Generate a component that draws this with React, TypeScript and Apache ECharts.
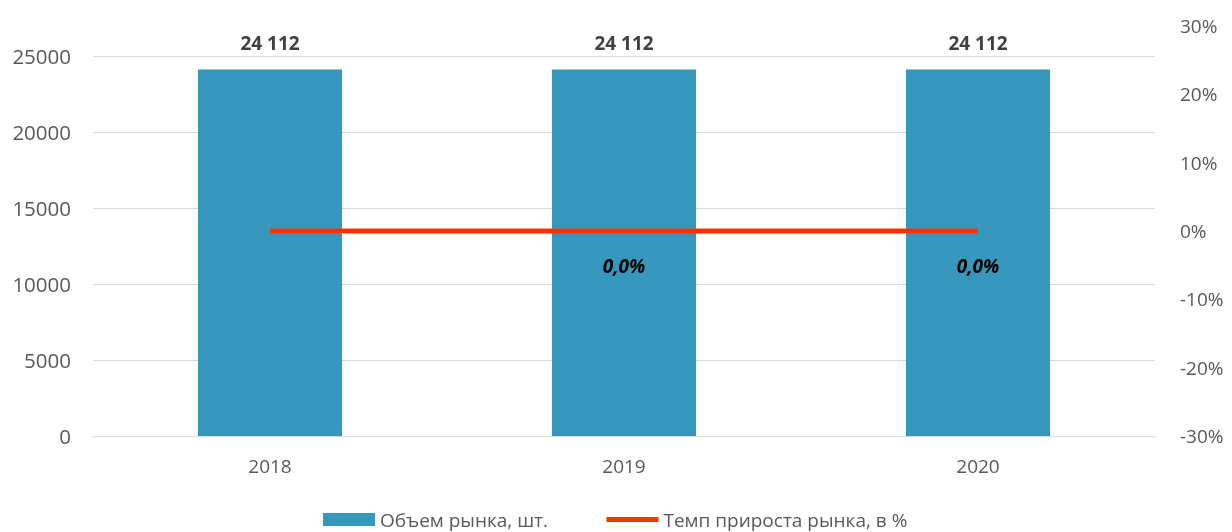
import React, { useEffect, useRef } from "react";
import * as echarts from "echarts";

const years = ["2018", "2019", "2020"];
const marketVolume = [24112, 24112, 24112];
const growthRate = [0, 0, 0];
const growthLabelShown = [false, true, true];
const leftTicks = { min: 0, max: 25000, interval: 5000 };
const rightTicks = { min: -30, max: 30, interval: 10 };

const FONT = "'Open Sans', 'Noto Sans', sans-serif";

export default function App() {
  const ref = useRef<HTMLDivElement>(null);
  useEffect(() => {
    document.body.style.margin = "0";
    const chart = echarts.init(ref.current!, null, { renderer: "svg" });
    const fmtThousands = (v: number) =>
      String(Math.round(v)).replace(/\B(?=(\d{3})+(?!\d))/g, " ");
    chart.setOption({
      animation: false,
      textStyle: { fontFamily: FONT },
      grid: [
        { left: 93, right: 77, top: 56, bottom: 96 },
        { left: 93, right: 77, top: 26, bottom: 96 },
      ],
      legend: {
        left: 318,
        top: 505,
        itemWidth: 52,
        itemHeight: 13,
        itemGap: 56,
        textStyle: { fontSize: 19, color: "#595959", fontFamily: FONT },
        data: [
          { name: "Объем рынка, шт.", icon: "rect" },
          {
            name: "Темп прироста рынка, в %",
            itemStyle: { opacity: 0 },
            lineStyle: { width: 5, color: "#FF3300" },
          },
        ],
      },
      xAxis: [
        {
          type: "category",
          gridIndex: 0,
          data: years,
          axisLine: { lineStyle: { color: "#d9d9d9", width: 1 } },
          axisTick: { show: false },
          axisLabel: { color: "#595959", fontSize: 19, margin: 20, fontFamily: FONT },
        },
        {
          type: "category",
          gridIndex: 1,
          data: years,
          show: false,
        },
      ],
      yAxis: [
        {
          type: "value",
          gridIndex: 0,
          min: leftTicks.min,
          max: leftTicks.max,
          interval: leftTicks.interval,
          axisLine: { show: false },
          axisTick: { show: false },
          splitLine: { lineStyle: { color: "#d9d9d9", width: 1 } },
          axisLabel: {
            color: "#595959",
            fontSize: 20.5,
            margin: 22,
            fontFamily: FONT,
            formatter: (v: number) => String(Math.round(v)),
          },
        },
        {
          type: "value",
          gridIndex: 1,
          position: "right",
          min: rightTicks.min,
          max: rightTicks.max,
          interval: rightTicks.interval,
          axisLine: { show: false },
          axisTick: { show: false },
          splitLine: { show: false },
          axisLabel: {
            color: "#595959",
            fontSize: 19,
            margin: 25,
            fontFamily: FONT,
            formatter: (v: number) => `${Math.round(v)}%`,
          },
        },
      ],
      series: [
        {
          name: "Объем рынка, шт.",
          type: "bar",
          xAxisIndex: 0,
          yAxisIndex: 0,
          data: marketVolume,
          barWidth: "40.7%",
          itemStyle: { color: "#3696BC" },
          label: {
            show: true,
            position: "top",
            distance: 17,
            color: "#404040",
            fontWeight: "bold",
            fontSize: 19,
            fontFamily: FONT,
            formatter: (p: any) => fmtThousands(p.value),
          },
        },
        {
          name: "Темп прироста рынка, в %",
          type: "line",
          xAxisIndex: 1,
          yAxisIndex: 1,
          symbol: "circle",
          symbolSize: 1,
          showSymbol: true,
          lineStyle: { color: "#FF3300", width: 5 },
          itemStyle: { color: "rgba(0,0,0,0)" },
          data: growthRate.map((v, i) => ({
            value: v,
            label: {
              show: growthLabelShown[i],
              position: "bottom",
              distance: 25,
              color: "#000000",
              fontWeight: "bold",
              fontStyle: "italic",
              fontSize: 19,
              fontFamily: FONT,
              formatter: (p: any) => `${Number(p.value).toFixed(1).replace(".", ",")}%`,
            },
          })),
        },
      ],
    });
    return () => chart.dispose();
  }, []);
  return (
    <div
      ref={ref}
      style={{ position: "fixed", left: 0, top: 0, width: 1232, height: 532 }}
    />
  );
}
